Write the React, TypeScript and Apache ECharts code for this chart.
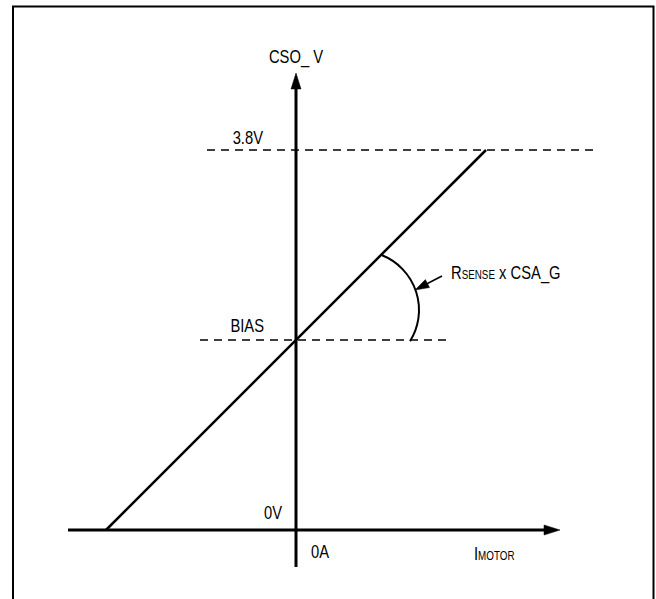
import React, { useEffect, useRef } from "react";
import * as echarts from "echarts";

// ---- data (volts on the y axis, amps on the x axis; gain 1 V/A) ----
const xExtent = [-2.96, 3.6]; // visible current range
const yExtent = [-0.69, 5.3]; // visible voltage range
const xAxisSegment = [-2.28, 0, 2.64, 0]; // I_MOTOR axis: x1, y1, x2, y2
const yAxisSegment = [0, -0.37, 0, 4.57]; // CSO_V axis
const levelValues = [3.8, 1.9]; // 3.8V, BIAS
const levelStarts = [-0.89, -0.96];
const levelEnds = [3.02, 1.52];
const transferX = [-1.9, 1.9];
const transferY = [0, 3.8];
const gainArcCenter = [0.64, 2.2];
const gainArcRadius = 0.59;
const gainArcAngles = [-68, 32];
const pointerSegment = [1.46, 2.54, 1.19, 2.4];
const labelTexts = [
  "CSO_ V",
  "3.8V",
  "BIAS",
  "0V",
  "0A",
  "{b|I}{s|MOTOR}",
  "{b|R}{s|SENSE}{b| x CSA_G}",
];
const labelX = [0, -0.33, -0.32, -0.14, 0.15, 1.78, 1.55];
const labelY = [4.74, 3.93, 2.05, 0.18, -0.21, -0.23, 2.58];
const labelAlign = ["center", "right", "right", "right", "left", "left", "left"];

const FONT = "'Liberation Sans', Arial, sans-serif";
const INK = "#000";

function arrowRenderer(lineWidth: number, headLen: number, headW: number) {
  return (params: any, api: any) => {
    const p1 = api.coord([api.value(0), api.value(1)]);
    const p2 = api.coord([api.value(2), api.value(3)]);
    const dx = p2[0] - p1[0];
    const dy = p2[1] - p1[1];
    const len = Math.sqrt(dx * dx + dy * dy) || 1;
    const ux = dx / len;
    const uy = dy / len;
    const bx = p2[0] - ux * headLen;
    const by = p2[1] - uy * headLen;
    const nx = -uy;
    const ny = ux;
    return {
      type: "group",
      children: [
        {
          type: "line",
          shape: { x1: p1[0], y1: p1[1], x2: bx + ux, y2: by + uy },
          style: { stroke: INK, lineWidth },
        },
        {
          type: "polygon",
          shape: {
            points: [
              [p2[0], p2[1]],
              [bx + (nx * headW) / 2, by + (ny * headW) / 2],
              [bx - (nx * headW) / 2, by - (ny * headW) / 2],
            ],
          },
          style: { fill: INK, stroke: INK, lineWidth: 0.5 },
        },
      ],
    };
  };
}

export default function App() {
  const ref = useRef<HTMLDivElement>(null);
  useEffect(() => {
    if (!ref.current) return;
    const chart = echarts.init(ref.current, undefined, { renderer: "svg" });
    const levelSeries = levelValues.map((v, i) => ({
      type: "line",
      name: "level" + i,
      data: [
        [levelStarts[i], v],
        [levelEnds[i], v],
      ],
      symbol: "none",
      silent: true,
      lineStyle: { color: INK, width: 1.5, type: [8, 6] },
    }));
    chart.setOption({
      animation: false,
      backgroundColor: "#fff",
      grid: { left: 0, top: 0, right: 0, bottom: 0 },
      xAxis: { type: "value", min: xExtent[0], max: xExtent[1], show: false },
      yAxis: { type: "value", min: yExtent[0], max: yExtent[1], show: false },
      graphic: [
        {
          type: "rect",
          shape: { x: 13, y: 6.5, width: 640.5, height: 640 },
          style: { fill: "none", stroke: INK, lineWidth: 2 },
          z: 100,
        },
      ],
      series: [
        ...levelSeries,
        {
          type: "line",
          name: "transfer",
          data: transferX.map((x, i) => [x, transferY[i]]),
          symbol: "none",
          silent: true,
          lineStyle: { color: INK, width: 2.5 },
        },
        {
          type: "custom",
          name: "axes",
          silent: true,
          data: [xAxisSegment, yAxisSegment],
          renderItem: arrowRenderer(3, 16, 10),
        },
        {
          type: "custom",
          name: "pointer",
          silent: true,
          data: [pointerSegment],
          renderItem: arrowRenderer(1.5, 14, 9),
        },
        {
          type: "custom",
          name: "gainArc",
          silent: true,
          data: [[gainArcCenter[0], gainArcCenter[1], gainArcRadius]],
          renderItem: (params: any, api: any) => {
            const c = api.coord([api.value(0), api.value(1)]);
            const e = api.coord([api.value(0) + api.value(2), api.value(1)]);
            const r = e[0] - c[0];
            return {
              type: "arc",
              shape: {
                cx: c[0],
                cy: c[1],
                r,
                startAngle: (gainArcAngles[0] * Math.PI) / 180,
                endAngle: (gainArcAngles[1] * Math.PI) / 180,
                clockwise: true,
              },
              style: { stroke: INK, lineWidth: 2, fill: "none" },
            };
          },
        },
        {
          type: "custom",
          name: "labels",
          silent: true,
          data: labelX.map((x, i) => [x, labelY[i], i]),
          renderItem: (params: any, api: any) => {
            const p = api.coord([api.value(0), api.value(1)]);
            const i = api.value(2);
            return {
              type: "text",
              x: p[0],
              y: p[1],
              scaleX: 0.82,
              style: {
                text: labelTexts[i],
                fill: INK,
                fontSize: 18,
                fontFamily: FONT,
                align: labelAlign[i],
                verticalAlign: "middle",
                rich: {
                  b: { fontSize: 18, fontFamily: FONT, fill: INK, lineHeight: 18, verticalAlign: "bottom" },
                  s: { fontSize: 12, fontFamily: FONT, fill: INK, lineHeight: 18, verticalAlign: "bottom" },
                },
              },
            };
          },
        },
      ],
    });
    return () => chart.dispose();
  }, []);
  return (
    <div
      ref={ref}
      style={{ position: "absolute", left: 0, top: 0, width: 656, height: 599 }}
    />
  );
}
